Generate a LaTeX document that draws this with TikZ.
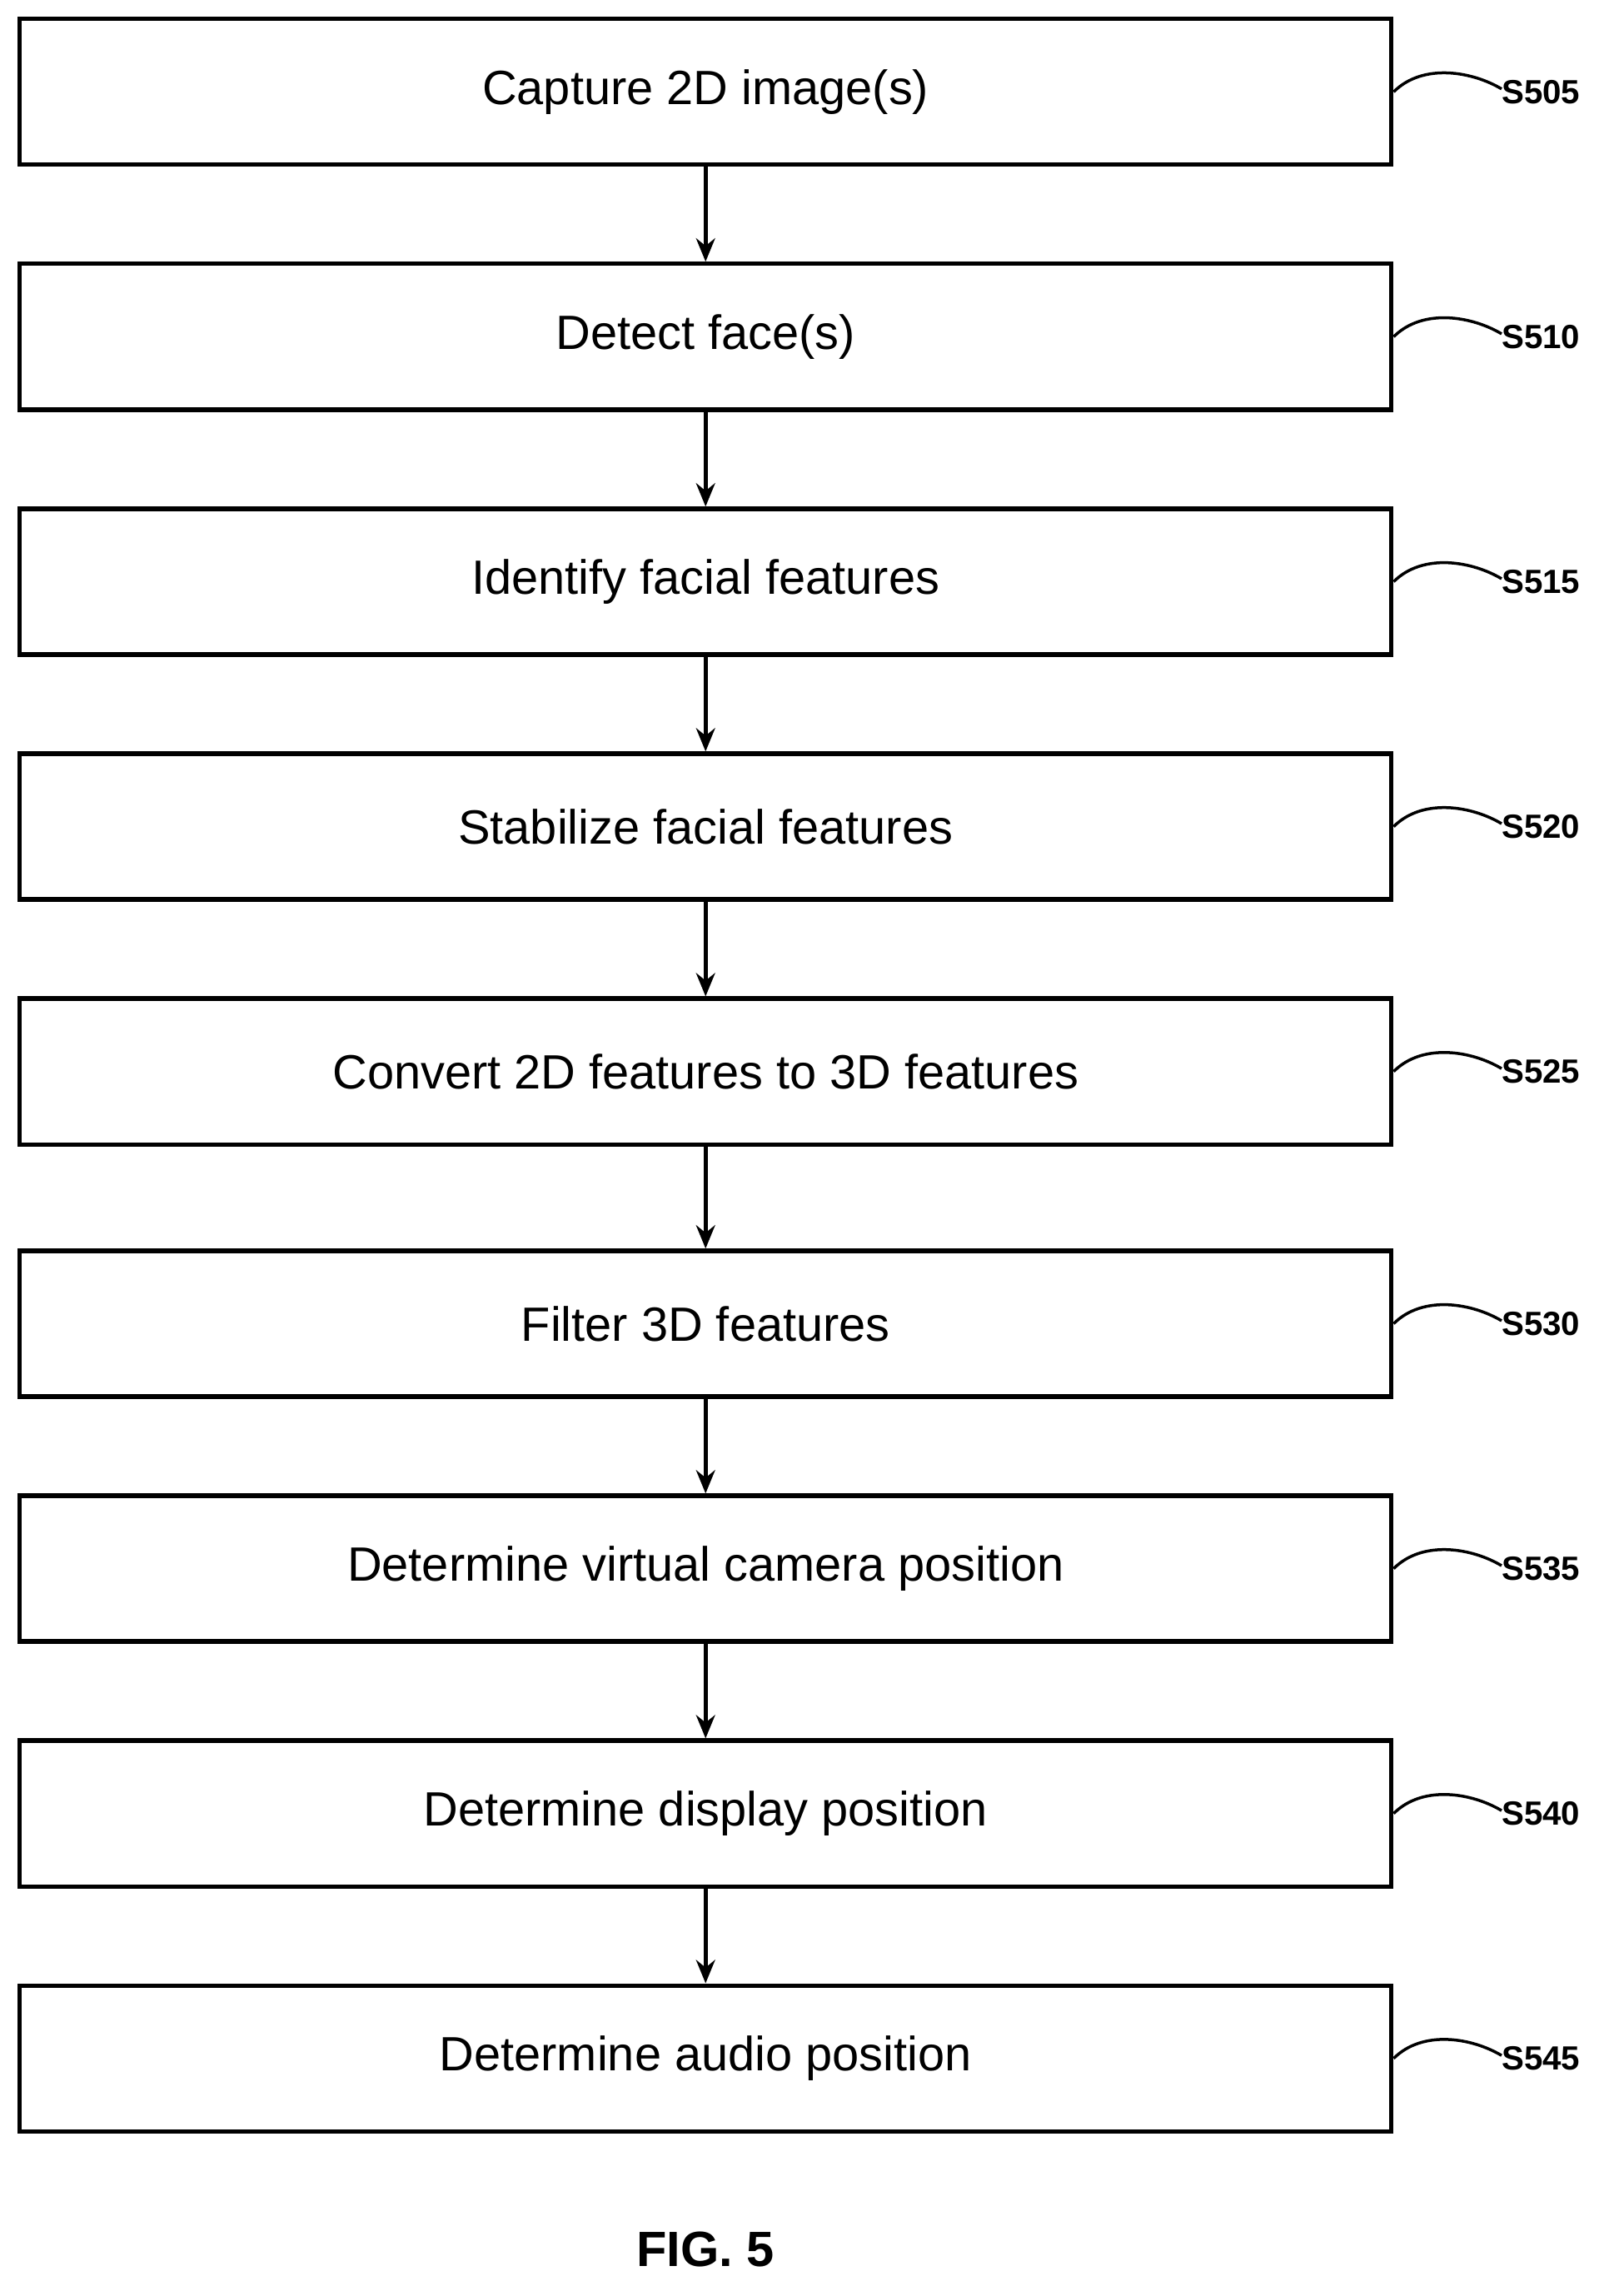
\documentclass[tikz,border=0pt]{standalone}
\usepackage{fontspec}
\setmainfont{Liberation Sans}
\usetikzlibrary{arrows.meta}
\begin{document}
\begin{tikzpicture}[x=1pt,y=-1pt,
  procbox/.style={draw,line width=3pt,minimum width=941pt,minimum height=100pt,inner sep=0pt,font=\fontsize{33}{38}\selectfont},
  flow/.style={line width=3pt,-{Stealth[length=16pt,width=13pt]}},
  tag/.style={anchor=west,inner sep=0pt,font=\bfseries\fontsize{23}{26}\selectfont}]
  \useasboundingbox (0,0) rectangle (1100,1575);
  % Step Nodes
  \node[procbox] (s505) at (484,63) {Capture 2D image(s)};
  \node[procbox] (s510) at (484,231) {Detect face(s)};
  \node[procbox] (s515) at (484,399) {Identify facial features};
  \node[procbox] (s520) at (484,567) {Stabilize facial features};
  \node[procbox] (s525) at (484,735) {Convert 2D features to 3D features};
  \node[procbox] (s530) at (484,908) {Filter 3D features};
  \node[procbox] (s535) at (484,1076) {Determine virtual camera position};
  \node[procbox] (s540) at (484,1244) {Determine display position};
  \node[procbox] (s545) at (484,1412) {Determine audio position};
  % Arrows
  \draw[flow] (s505) -- (s510);
  \draw[flow] (s510) -- (s515);
  \draw[flow] (s515) -- (s520);
  \draw[flow] (s520) -- (s525);
  \draw[flow] (s525) -- (s530);
  \draw[flow] (s530) -- (s535);
  \draw[flow] (s535) -- (s540);
  \draw[flow] (s540) -- (s545);
  % Reference Labels
  \foreach \s/\t in {s505/S505,s510/S510,s515/S515,s520/S520,s525/S525,s530/S530,s535/S535,s540/S540,s545/S545}{
    \node[tag] (\s tag) at ([xshift=74pt]\s.east) {\t};
    \draw[line width=2pt] (\s.east) .. controls +(20,-20) and +(-20,-12) .. ([yshift=2pt]\s tag.west);
  }
  % Caption
  \node[font=\bfseries\fontsize{34}{38}\selectfont] (fig) at (484,1543) {FIG. 5};
\end{tikzpicture}
\end{document}
